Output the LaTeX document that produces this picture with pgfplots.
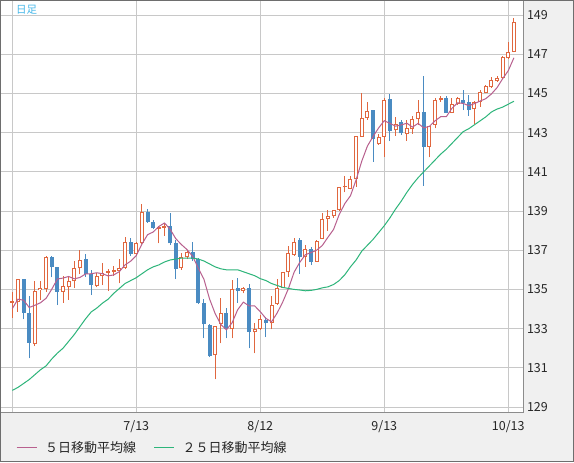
\documentclass[border=0pt]{standalone}
\usepackage{pgfplots}
\pgfplotsset{compat=1.18}
\usepackage{pgfplotstable}
\usepackage{fontspec}
\setmainfont{Noto Sans CJK JP}
\definecolor{bgpanel}{HTML}{F0F0F0}
\definecolor{framegray}{HTML}{6E6E6E}
\definecolor{axisgray}{HTML}{8C8C8C}
\definecolor{gridgray}{HTML}{C8C8C8}
\definecolor{candred}{HTML}{E0673F}
\definecolor{candblue}{HTML}{4A8BC2}
\definecolor{maPink}{HTML}{B8608E}
\definecolor{maGreen}{HTML}{2DB57A}
\definecolor{labelcyan}{HTML}{45B8EA}

\pgfplotstableread{
i O H L C
0 134.32 134.88 133.56 134.41
1 134.34 135.55 133.86 135.51
4 132.21 135.43 132.11 134.92
5 134.95 135.43 134.46 135.07
6 135.02 136.72 134.88 136.65
9 134.88 135.68 134.32 135.19
10 135.10 135.62 134.46 135.43
11 135.41 136.46 135.07 136.07
12 136.07 137.01 135.77 136.50
15 135.19 135.82 135.10 135.70
16 135.68 136.36 135.22 135.82
17 135.84 136.02 134.94 135.94
18 135.90 136.19 135.68 136.00
19 135.96 136.53 135.31 136.09
20 136.07 137.69 136.04 137.40
22 136.79 137.44 136.72 137.35
23 137.35 139.34 137.30 138.93
26 138.10 138.25 137.35 138.20
27 138.15 138.38 137.74 138.22
30 136.07 136.84 136.00 136.64
31 136.64 137.01 136.55 136.89
36 131.64 133.15 130.41 133.15
37 133.22 134.54 132.25 133.78
39 132.96 135.48 132.50 135.00
41 134.94 135.14 134.80 135.05
43 132.81 133.27 131.74 132.98
44 132.98 133.69 132.95 133.47
46 133.27 134.68 132.96 134.19
47 134.26 135.51 134.20 135.07
48 135.07 135.90 135.05 135.87
49 135.87 137.21 135.65 136.84
50 136.76 137.64 136.71 137.43
52 136.67 137.26 136.16 137.04
54 136.41 137.50 136.40 137.47
55 137.58 138.90 137.57 138.61
56 138.60 139.03 138.00 138.76
57 138.72 139.06 138.65 139.03
58 139.03 140.25 139.00 140.23
59 140.21 140.81 139.95 140.25
60 140.13 140.80 140.10 140.61
61 140.61 142.85 140.23 142.83
62 142.80 145.00 142.78 143.77
63 143.74 144.57 143.65 144.11
65 142.40 142.95 142.38 142.80
66 142.80 144.75 141.77 144.67
68 143.12 143.80 142.83 143.43
70 142.93 143.64 142.59 143.24
71 143.17 143.85 142.93 143.68
72 143.68 144.66 143.39 144.04
74 142.28 143.34 141.74 143.34
75 143.39 144.75 143.22 144.66
76 144.66 144.87 144.57 144.75
78 144.02 144.75 144.00 144.44
79 144.44 144.80 144.40 144.75
82 144.19 144.63 143.44 144.55
83 144.58 145.17 144.32 145.09
84 145.04 145.43 145.00 145.38
85 145.31 145.85 145.30 145.68
86 145.65 145.89 145.60 145.77
87 145.77 146.90 145.75 146.84
88 146.79 147.61 146.75 147.13
89 147.13 148.83 147.10 148.66
}\up

\pgfplotstableread{
i O H L C
2 135.51 135.55 133.47 133.81
3 133.81 134.66 131.48 132.28
7 136.65 136.72 135.62 136.13
8 136.13 136.16 134.20 134.88
13 136.53 136.81 135.65 135.77
14 135.77 135.99 134.71 135.22
21 137.40 137.61 136.70 136.79
24 138.93 139.08 138.40 138.46
25 138.46 138.55 138.06 138.12
28 138.22 138.88 137.27 137.35
29 137.38 137.52 135.53 136.04
32 136.89 137.40 136.46 136.55
33 136.55 136.60 134.25 134.29
34 134.29 134.49 132.50 133.22
35 133.18 133.22 131.54 131.60
38 133.78 134.04 132.50 132.96
40 135.05 135.57 134.32 134.94
42 135.05 135.26 131.99 132.84
45 133.44 133.61 132.56 133.27
51 137.52 137.61 135.79 136.67
53 137.04 137.18 136.24 136.41
64 144.13 144.15 141.51 142.69
67 144.71 144.96 142.57 143.08
69 143.54 143.65 142.90 142.96
73 144.04 145.89 140.29 142.28
77 144.75 144.87 144.00 144.02
80 144.66 145.17 144.15 144.49
81 144.55 144.92 143.85 144.15
}\down

\pgfplotstableread{
i ma5 ma25
0 134.02 129.85
1 134.50 130.00
2 134.45 130.20
3 134.08 130.40
4 134.19 130.65
5 134.32 130.90
6 134.55 131.10
7 135.01 131.45
8 135.53 131.75
9 135.58 132.00
10 135.66 132.35
11 135.54 132.70
12 135.61 133.10
13 135.79 133.50
14 135.80 133.85
15 135.85 134.05
16 135.80 134.30
17 135.69 134.50
18 135.74 134.80
19 135.91 135.05
20 136.25 135.30
21 136.44 135.45
22 136.73 135.60
23 137.31 135.80
24 137.79 136.00
25 137.93 136.15
26 138.21 136.25
27 138.39 136.40
28 138.07 136.50
29 137.59 136.55
30 137.29 136.60
31 137.03 136.60
32 136.69 136.60
33 136.08 136.55
34 135.52 136.45
35 134.51 136.30
36 133.76 136.15
37 133.21 136.05
38 132.94 136.00
39 133.30 136.00
40 133.97 136.00
41 134.35 135.90
42 134.16 135.80
43 134.16 135.70
44 133.86 135.55
45 133.52 135.45
46 133.35 135.30
47 133.80 135.20
48 134.37 135.10
49 135.05 135.05
50 135.88 135.00
51 136.38 134.97
52 136.77 134.93
53 136.88 134.95
54 137.00 135.00
55 137.24 135.08
56 137.66 135.13
57 138.06 135.25
58 138.82 135.45
59 139.38 135.75
60 139.78 136.15
61 140.59 136.50
62 141.54 136.95
63 142.31 137.25
64 142.80 137.55
65 143.24 137.90
66 143.61 138.25
67 143.47 138.65
68 143.33 139.10
69 143.39 139.50
70 143.48 139.95
71 143.28 140.35
72 143.47 140.70
73 143.24 141.00
74 143.32 141.30
75 143.60 141.60
76 143.81 141.90
77 143.81 142.15
78 144.24 142.45
79 144.52 142.75
80 144.49 143.05
81 144.37 143.20
82 144.48 143.40
83 144.61 143.60
84 144.73 143.80
85 144.97 144.05
86 145.29 144.20
87 145.75 144.30
88 146.16 144.45
89 146.82 144.60
}\ma

\pgfplotsset{
  candle/.style 2 args={forget plot, draw=none, mark=none,
    error bars/.cd, y dir=plus, y explicit, error mark=none,
    error bar style={draw=#1, line width=#2, solid}},
}

\begin{document}
\begin{tikzpicture}[x=1bp,y=1bp]
\fill[bgpanel] (0,0) rectangle (574,462);
\begin{axis}[
  at={(0.5bp,49.7bp)}, anchor=south west,
  scale only axis, width=522.8bp, height=411.8bp,
  xmin=-2.094, xmax=90.667, ymin=128.73, ymax=149.74,
  axis background/.style={fill=white},
  axis line style={draw=axisgray, line width=1bp},
  grid=major, grid style={draw=gridgray, line width=1bp},
  xtick={0,22,44,66,88}, xticklabels={,7/13,8/12,9/13,10/13},
  ytick={129,131,...,149},
  yticklabel pos=right,
  major tick length=0pt,
  /pgf/number format/assume math mode=true,
  tick label style={font=\fontsize{12.5bp}{14bp}\selectfont, text=black!85},
  yticklabel style={anchor=west, inner sep=0pt, xshift=3.5bp},
  xticklabel style={anchor=base, inner sep=0pt, yshift=-17.7bp},
  legend style={at={(0.02965,-0.0855)}, anchor=west, draw=none, fill=none,
    inner sep=0pt, outer sep=0pt, legend columns=2,
    font=\fontsize{13bp}{15bp}\selectfont, text=black!85,
    nodes={inner sep=0pt, text depth=0pt},
    /tikz/every odd column/.append style={column sep=8bp},
    /tikz/every even column/.append style={column sep=17.5bp}},
  legend cell align=left,
]
% wicks
\addplot[candle={candred}{1bp}]
  table[x=i, y=L, y error plus expr=\thisrow{H}-\thisrow{L}] {\up};
\addplot[candle={candblue}{1bp}]
  table[x=i, y=L, y error plus expr=\thisrow{H}-\thisrow{L}] {\down};
% bodies
\addplot[candle={candblue}{4bp}]
  table[x=i, y=C, y error plus expr={max(\thisrow{O}-\thisrow{C},0.06)}] {\down};
\addplot[candle={candred}{4bp}]
  table[x=i, y=O, y error plus expr={max(\thisrow{C}-\thisrow{O},0.06)}] {\up};
\addplot[candle={white}{2bp}]
  table[x=i, y expr=\thisrow{O}+0.051, y error plus expr={max(\thisrow{C}-\thisrow{O}-0.102,0)}] {\up};
% moving averages
\addplot[maPink, line width=1bp, mark=none,
  legend image code/.code={\draw[maPink, line width=1bp] (0bp,0bp) -- (20bp,0bp);}]
  table[x=i, y=ma5] {\ma};
\addlegendentry{５日移動平均線}
\addplot[maGreen, line width=1bp, mark=none,
  legend image code/.code={\draw[maGreen, line width=1bp] (0bp,0bp) -- (20bp,0bp);}]
  table[x=i, y=ma25] {\ma};
\addlegendentry{２５日移動平均線}
\end{axis}
\node[anchor=west, inner sep=0pt, text=labelcyan, font=\fontsize{10.5bp}{12bp}\selectfont] at (16bp,452.5bp) {日足};
\draw[framegray, line width=1bp] (0.5,0.5) rectangle (573.5,461.5);
\end{tikzpicture}
\end{document}
